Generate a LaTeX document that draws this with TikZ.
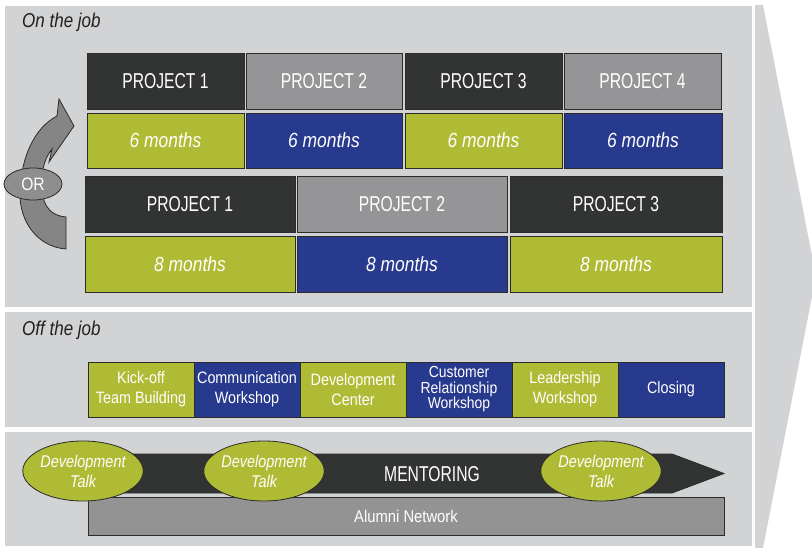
\documentclass[tikz,border=0pt]{standalone}
\usepackage{fontspec}
\setmainfont{Liberation Sans}
\newfontfamily\condensedfont[FakeStretch=0.73]{Liberation Sans}
\newfontfamily\narrowfont[FakeStretch=0.87]{Liberation Sans}
\newfontfamily\slantfont[FakeStretch=0.85]{Liberation Sans}
\usetikzlibrary{shapes.geometric}

\definecolor{panelgray}{HTML}{D2D3D5}
\definecolor{darkbox}{HTML}{323333}
\definecolor{midbox}{HTML}{959497}
\definecolor{olive}{HTML}{AFBB35}
\definecolor{navy}{HTML}{283A8D}
\definecolor{edge}{HTML}{2B2B2B}
\definecolor{labeltext}{HTML}{231F20}
\definecolor{arrowgray}{HTML}{858585}
\definecolor{orgray}{HTML}{8E8E8E}
\definecolor{alumnigray}{HTML}{939393}

\tikzset{
  cell/.style={draw=edge, line width=0.8pt, text=white, inner sep=0pt,
    align=center},
  projcell/.style={cell, minimum height=56pt,
    font=\condensedfont\fontsize{21.5}{24}\selectfont},
  monthcell/.style={cell, minimum height=55pt,
    font=\slantfont\fontsize{20.5}{24}\selectfont\itshape},
  coursecell/.style={cell, minimum width=106pt, minimum height=55pt,
    font=\narrowfont\fontsize{16.5}{20}\selectfont},
  sectionlabel/.style={anchor=west, inner sep=0pt, text=labeltext,
    font=\slantfont\fontsize{20}{24}\selectfont\itshape},
  talk/.style={ellipse, draw=edge, line width=0.8pt, fill=olive, text=white,
    inner sep=0pt, minimum width=117pt, minimum height=60pt, align=center,
    font=\slantfont\fontsize{17}{20}\selectfont\itshape},
}

\begin{document}
\begin{tikzpicture}[x=1pt, y=-1pt]
  \useasboundingbox (0,0) rectangle (812,548);
  \fill[white] (0,0) rectangle (812,548);

  % background panels and the chevron on the right
  \fill[panelgray] (5,6) rectangle (752,307);
  \fill[panelgray] (5,312) rectangle (752,427);
  \fill[panelgray] (5,432) rectangle (752,546);
  \fill[panelgray] (755,5) -- (763,5) -- (816,276) -- (763,548) -- (755,548) -- cycle;

  % section titles
  \node[sectionlabel] (onjob) at (22,22) {On the job};
  \node[sectionlabel] (offjob) at (22,330) {Off the job};

  % four projects of six months
  \node[projcell, fill=darkbox, minimum width=157pt] (pa1) at (165.5,81) {PROJECT 1};
  \node[projcell, fill=midbox,  minimum width=156pt] (pa2) at (324,81)   {PROJECT 2};
  \node[projcell, fill=darkbox, minimum width=157pt] (pa3) at (483.5,81) {PROJECT 3};
  \node[projcell, fill=midbox,  minimum width=157pt] (pa4) at (642.5,81) {PROJECT 4};
  \node[monthcell, fill=olive, minimum width=157pt] (ma1) at (165.5,140.5) {6 months};
  \node[monthcell, fill=navy,  minimum width=156pt] (ma2) at (324,140.5)   {6 months};
  \node[monthcell, fill=olive, minimum width=157pt] (ma3) at (483.5,140.5) {6 months};
  \node[monthcell, fill=navy,  minimum width=158pt] (ma4) at (643,140.5)   {6 months};

  % three projects of eight months
  \node[projcell, fill=darkbox, minimum width=210pt] (pb1) at (190,204) {PROJECT 1};
  \node[projcell, fill=midbox,  minimum width=210pt] (pb2) at (402,204) {PROJECT 2};
  \node[projcell, fill=darkbox, minimum width=212pt] (pb3) at (616,204) {PROJECT 3};
  \node[monthcell, fill=olive, minimum width=210pt, minimum height=56pt] (mb1) at (190,264) {8 months};
  \node[monthcell, fill=navy,  minimum width=210pt, minimum height=56pt] (mb2) at (402,264) {8 months};
  \node[monthcell, fill=olive, minimum width=212pt, minimum height=56pt] (mb3) at (616,264) {8 months};

  % curved arrow between the two alternatives
  \draw[fill=arrowgray, draw=edge, line width=0.8pt]
    (66,249) .. controls (38,247) and (19,222) .. (20,192)
    .. controls (21,158) and (34,128) .. (57,116)
    -- (59,99) -- (74,126) -- (49,162) -- (52,149)
    .. controls (43,160) and (41,175) .. (42,190)
    .. controls (43,207) and (52,216) .. (66,217) -- cycle;
  \node[ellipse, draw=edge, line width=0.8pt, fill=orgray, text=white,
    inner sep=0pt, minimum width=58pt, minimum height=32pt,
    font=\narrowfont\fontsize{18}{20}\selectfont] (or) at (33,184) {OR};

  % off-the-job courses
  \node[coursecell, fill=olive] (c1) at (141,389.5) {Kick-off\\Team Building};
  \node[coursecell, fill=navy]  (c2) at (247,389.5) {Communication\\Workshop};
  \node[coursecell, fill=olive] (c3) at (353,389.5) {Development\\Center};
  \node[coursecell, fill=navy, font=\narrowfont\fontsize{16}{15.5}\selectfont]
    (c4) at (459,389.5) {Customer\\Relationship\\Workshop};
  \node[coursecell, fill=olive] (c5) at (565,389.5) {Leadership\\Workshop};
  \node[coursecell, fill=navy]  (c6) at (671,389.5) {Closing};

  % alumni network and mentoring
  \node[cell, fill=alumnigray, minimum width=636pt, minimum height=38pt,
    font=\narrowfont\fontsize{17}{19}\selectfont] (alumni) at (406,516) {Alumni Network};
  \draw[fill=darkbox, draw=edge, line width=0.8pt]
    (100,454) -- (672,454) -- (724,473.5) -- (672,493) -- (100,493) -- cycle;
  \node[text=white, font=\condensedfont\fontsize{21.5}{24}\selectfont] (mentor) at (432,474) {MENTORING};

  % development talks
  \node[talk] (t1) at (83,471)  {Development\\Talk};
  \node[talk] (t2) at (264,471) {Development\\Talk};
  \node[talk] (t3) at (601,471) {Development\\Talk};
\end{tikzpicture}
\end{document}
